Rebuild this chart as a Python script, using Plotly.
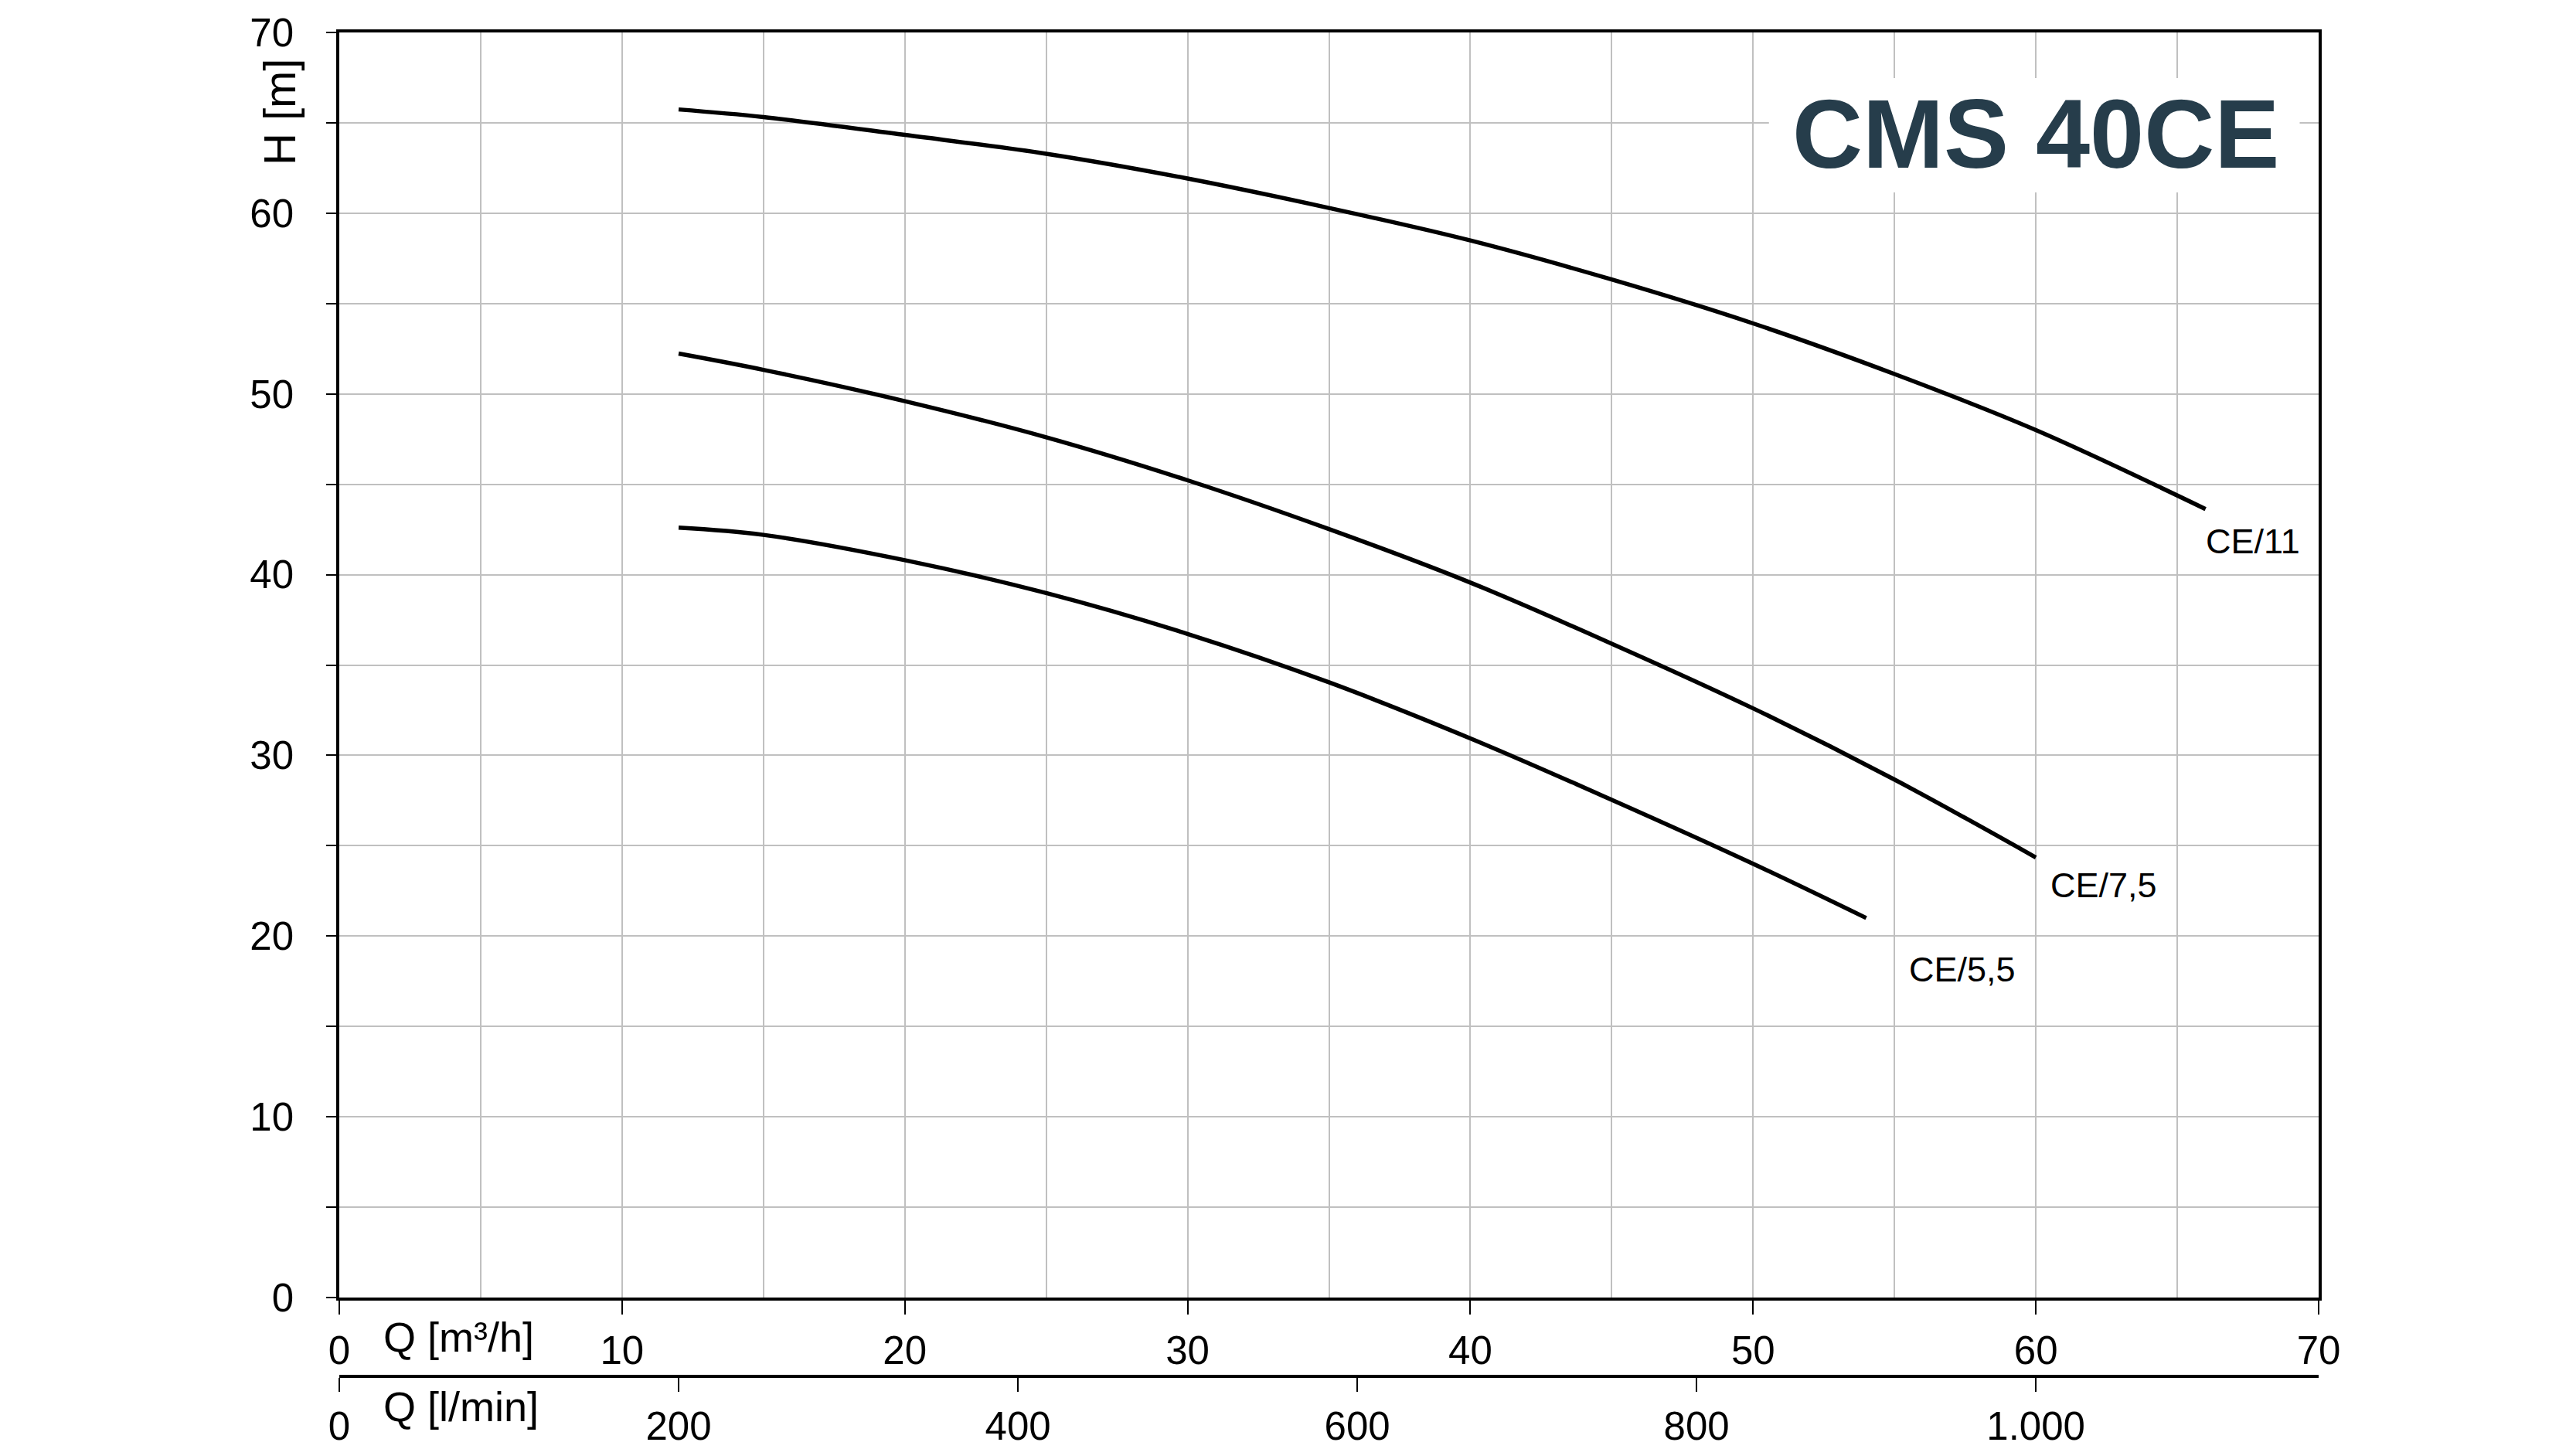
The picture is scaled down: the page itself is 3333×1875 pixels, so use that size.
import plotly.graph_objects as go

# pump curves: Q in m3/h, H in m
q_ce11 = [12, 15, 20, 25, 30, 35, 40, 45, 50, 55, 60, 66]
h_ce11 = [65.74, 65.32, 64.33, 63.29, 61.92, 60.29, 58.49, 56.33, 53.9, 51.1, 48.0, 43.63]

q_ce75 = [12, 15, 20, 25, 30, 35, 40, 45, 50, 55, 60]
h_ce75 = [52.23, 51.33, 49.6, 47.6, 45.22, 42.52, 39.56, 36.18, 32.6, 28.66, 24.35]

q_ce55 = [12, 15, 20, 25, 30, 35, 40, 45, 50, 54]
h_ce55 = [42.6, 42.2, 40.8, 38.98, 36.72, 34.04, 30.94, 27.54, 24.0, 21.0]

curve_names = ["CE/11", "CE/7,5", "CE/5,5"]

# second axis in l/min
lmin_ticks = [0, 200, 400, 600, 800, 1000]
lmin_labels = ["0", "200", "400", "600", "800", "1.000"]

title = "CMS 40CE"
FONT = "Liberation Sans, Arial, sans-serif"
GRID = "#c0c0c0"

fig = go.Figure()

for q, h in [(q_ce11, h_ce11), (q_ce75, h_ce75), (q_ce55, h_ce55)]:
    fig.add_trace(go.Scatter(
        x=q, y=h, mode="lines",
        line=dict(color="black", width=5.5, shape="spline"),
        showlegend=False, hoverinfo="skip"
    ))

# dummy trace so the l/min axis gets drawn
fig.add_trace(go.Scatter(
    x=[0, 70 * 1000 / 60], y=[None, None], xaxis="x2", yaxis="y",
    mode="lines", showlegend=False, hoverinfo="skip"
))

# curve labels, placed just past the end of each curve
label_pos = [(65.96, 41.85), (60.46, 22.8), (55.45, 18.15)]
for name, (lx, ly) in zip(curve_names, label_pos):
    fig.add_annotation(x=lx, y=ly, xref="x", yref="y", text=name,
                       showarrow=False, xanchor="left", yanchor="middle",
                       font=dict(family=FONT, size=45, color="black"))

# white box behind the title
fig.add_shape(type="rect", xref="x", yref="y", x0=50.56, x1=69.33, y0=61.15, y1=67.48,
              fillcolor="white", line=dict(width=0), layer="between")
fig.add_annotation(x=60, y=64.36, xref="x", yref="y", text="<b>" + title + "</b>",
                   showarrow=False, xanchor="center", yanchor="middle",
                   font=dict(family=FONT, size=126, color="#263d4b"))

fig.add_annotation(x=-0.030, y=65.6, xref="paper", yref="y", text="H [m]",
                   textangle=-90, showarrow=False, xanchor="center", yanchor="middle",
                   font=dict(family=FONT, size=58, color="black"))
fig.add_annotation(x=1.5, y=0.0293, xref="x", yref="paper", text="Q [m³/h]",
                   showarrow=False, xanchor="left", yanchor="middle",
                   font=dict(family=FONT, size=54, color="black"))
fig.add_annotation(x=1.5, y=-0.0224, xref="x", yref="paper", text="Q [l/min]",
                   showarrow=False, xanchor="left", yanchor="middle",
                   font=dict(family=FONT, size=54, color="black"))

fig.update_layout(
    width=3333, height=1875,
    margin=dict(l=431, r=341, t=34, b=102, autoexpand=False),
    paper_bgcolor="white", plot_bgcolor="white",
    font=dict(family=FONT, color="black"),
    xaxis=dict(
        range=[0, 70], tick0=0, dtick=10, anchor="y", automargin=False,
        ticks="outside", ticklen=18, tickwidth=2, tickcolor="black",
        ticklabelstandoff=3,
        showline=True, linewidth=4, linecolor="black", mirror=True,
        showgrid=True, gridcolor=GRID, gridwidth=1.5, zeroline=False,
        minor=dict(dtick=5, showgrid=True, gridcolor=GRID, gridwidth=1.5, ticks=""),
        tickfont=dict(family=FONT, size=51, color="black"),
    ),
    xaxis2=dict(
        range=[0, 70 * 1000 / 60], overlaying="x", anchor="free", position=0, side="bottom",
        automargin=False,
        tickvals=lmin_ticks, ticktext=lmin_labels,
        ticks="outside", ticklen=18, tickwidth=2, tickcolor="black",
        ticklabelstandoff=1,
        showline=True, linewidth=4, linecolor="black",
        showgrid=False, zeroline=False,
        tickfont=dict(family=FONT, size=51, color="black"),
    ),
    yaxis=dict(
        range=[0, 70], tick0=0, dtick=10, domain=[102 / 1739, 1], automargin=False,
        ticks="outside", ticklen=13, tickwidth=2, tickcolor="black",
        ticklabelstandoff=32,
        showline=True, linewidth=3.5, linecolor="black", mirror=True,
        showgrid=True, gridcolor=GRID, gridwidth=1.5, zeroline=False,
        minor=dict(dtick=5, showgrid=True, gridcolor=GRID, gridwidth=1.5,
                   ticks="outside", ticklen=13, tickwidth=2, tickcolor="black"),
        tickfont=dict(family=FONT, size=51, color="black"),
    ),
)

fig.write_html("out.html")
